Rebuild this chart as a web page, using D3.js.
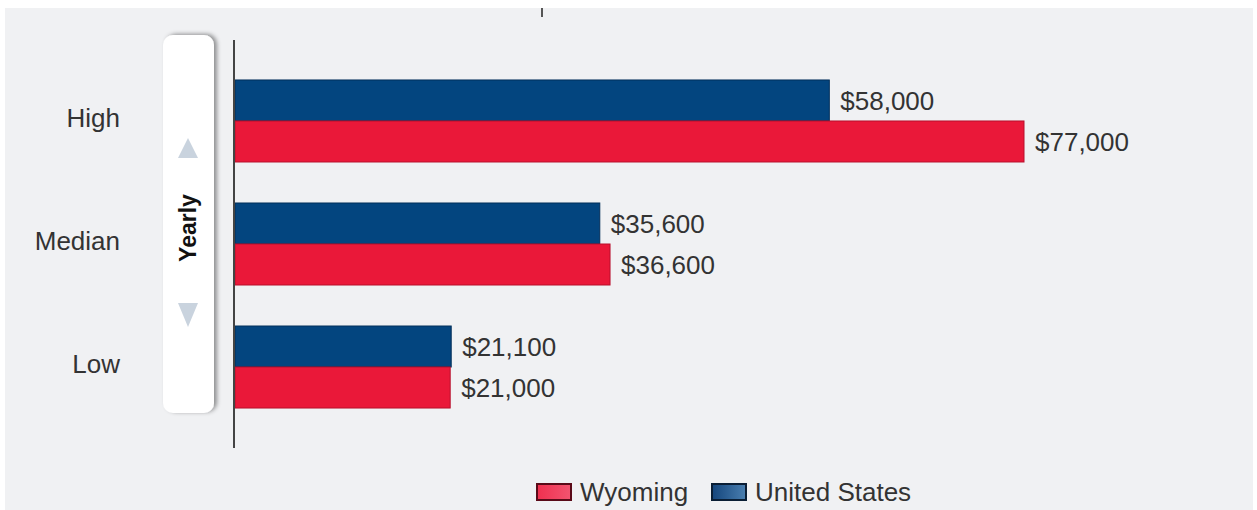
<!DOCTYPE html>
<html>
<head>
<meta charset="utf-8">
<script src="https://cdn.jsdelivr.net/npm/d3@7"></script>
<style>
  body { margin: 0; background: #fff; }
  text { font-family: "Liberation Sans", Arial, sans-serif; }
</style>
</head>
<body>
<script>
// 数据
const categories = ['High', 'Median', 'Low'];
const series = ['United States', 'Wyoming'];
const us_values = [58000, 35600, 21100];
const wy_values = [77000, 36600, 21000];
const legend_items = ['Wyoming', 'United States'];

const series2color = {
    'Wyoming': '#ea1839',
    'United States': '#03457f'
};
const series2stroke = {
    'Wyoming': '#b8102c',
    'United States': '#022f5a'
};

const width = 1257;
const height = 510;

const svg = d3.select('body').append('svg')
    .attr('width', width)
    .attr('height', height);

const defs = svg.append('defs');
const shadow = defs.append('filter').attr('id', 'shadow')
    .attr('x', '-30%').attr('y', '-10%').attr('width', '160%').attr('height', '120%');
shadow.append('feDropShadow')
    .attr('dx', 3).attr('dy', -1)
    .attr('stdDeviation', 2)
    .attr('flood-color', '#000')
    .attr('flood-opacity', 0.4);

const grad_red = defs.append('linearGradient').attr('id', 'grad_red');
grad_red.append('stop').attr('offset', '0%').attr('stop-color', '#f0304f');
grad_red.append('stop').attr('offset', '100%').attr('stop-color', '#f25470');
const grad_blue = defs.append('linearGradient').attr('id', 'grad_blue');
grad_blue.append('stop').attr('offset', '0%').attr('stop-color', '#14457c');
grad_blue.append('stop').attr('offset', '100%').attr('stop-color', '#4a7fb0');

// 背景
svg.append('rect')
    .attr('x', 5).attr('y', 8)
    .attr('width', 1248).attr('height', 502)
    .attr('fill', '#f0f1f3');

// 顶部小刻度
svg.append('line')
    .attr('x1', 542).attr('x2', 542)
    .attr('y1', 8).attr('y2', 17)
    .attr('stroke', '#555').attr('stroke-width', 2);

// 比例尺
const y = d3.scaleBand()
    .domain(categories)
    .range([40, 448])
    .paddingInner(1 / 3)
    .paddingOuter(0.325);
const y_inner = d3.scaleBand()
    .domain(series)
    .range([0, y.bandwidth()]);
const x = d3.scaleLinear()
    .domain([0, 77000])
    .range([235, 1024]);

// Yearly 面板
const panel = svg.append('g');
panel.append('rect')
    .attr('x', 163).attr('y', 35)
    .attr('width', 51).attr('height', 378)
    .attr('rx', 10)
    .attr('fill', '#fff')
    .attr('filter', 'url(#shadow)');
panel.append('path')
    .attr('d', 'M188,138 L198,158 L178,158 Z')
    .attr('fill', '#c9d3de');
panel.append('path')
    .attr('d', 'M178,303 L198,303 L188,327 Z')
    .attr('fill', '#c9d3de');
panel.append('text')
    .attr('transform', 'translate(196,228) rotate(-90)')
    .attr('text-anchor', 'middle')
    .attr('font-size', 23)
    .attr('font-weight', 'bold')
    .attr('fill', '#111')
    .text('Yearly');

// 绘制柱子
const rows = [];
categories.forEach((c, i) => {
    rows.push({ cat: c, series: 'United States', value: us_values[i] });
    rows.push({ cat: c, series: 'Wyoming', value: wy_values[i] });
});

svg.append('g').attr('id', 'bars_g')
    .selectAll('rect')
    .data(rows).enter()
    .append('rect')
    .attr('x', x(0))
    .attr('y', d => y(d.cat) + y_inner(d.series))
    .attr('width', d => x(d.value) - x(0))
    .attr('height', y_inner.bandwidth())
    .attr('fill', d => series2color[d.series])
    .attr('stroke', d => series2stroke[d.series])
    .attr('stroke-width', 1);

// 数值标签
svg.append('g').attr('id', 'labels_g')
    .selectAll('text')
    .data(rows).enter()
    .append('text')
    .attr('x', d => x(d.value) + 11)
    .attr('y', d => y(d.cat) + y_inner(d.series) + y_inner.bandwidth() / 2)
    .attr('dy', '0.36em')
    .attr('font-size', 26)
    .attr('fill', '#333')
    .text(d => '$' + d3.format(',')(d.value));

// 类别标签
svg.append('g')
    .selectAll('text')
    .data(categories).enter()
    .append('text')
    .attr('x', 120)
    .attr('y', d => y(d) + y.bandwidth() / 2 - 3)
    .attr('dy', '0.36em')
    .attr('text-anchor', 'end')
    .attr('font-size', 26)
    .attr('fill', '#333')
    .text(d => d);

// 坐标轴线
svg.append('line')
    .attr('x1', 234).attr('x2', 234)
    .attr('y1', y.range()[0]).attr('y2', y.range()[1])
    .attr('stroke', '#444').attr('stroke-width', 2);

// 图例
const legend_x = { 'Wyoming': 537, 'United States': 712 };
const legend = svg.append('g')
    .selectAll('g')
    .data(legend_items).enter()
    .append('g')
    .attr('transform', d => `translate(${legend_x[d]},484)`);
legend.append('rect')
    .attr('width', 34).attr('height', 16)
    .attr('fill', d => d === 'Wyoming' ? 'url(#grad_red)' : 'url(#grad_blue)')
    .attr('stroke', d => d === 'Wyoming' ? '#5a0a18' : '#0a1e35')
    .attr('stroke-width', 2);
legend.append('text')
    .attr('x', 43).attr('y', 8)
    .attr('dy', '0.36em')
    .attr('font-size', 26)
    .attr('fill', '#333')
    .text(d => d);
</script>
</body>
</html>
